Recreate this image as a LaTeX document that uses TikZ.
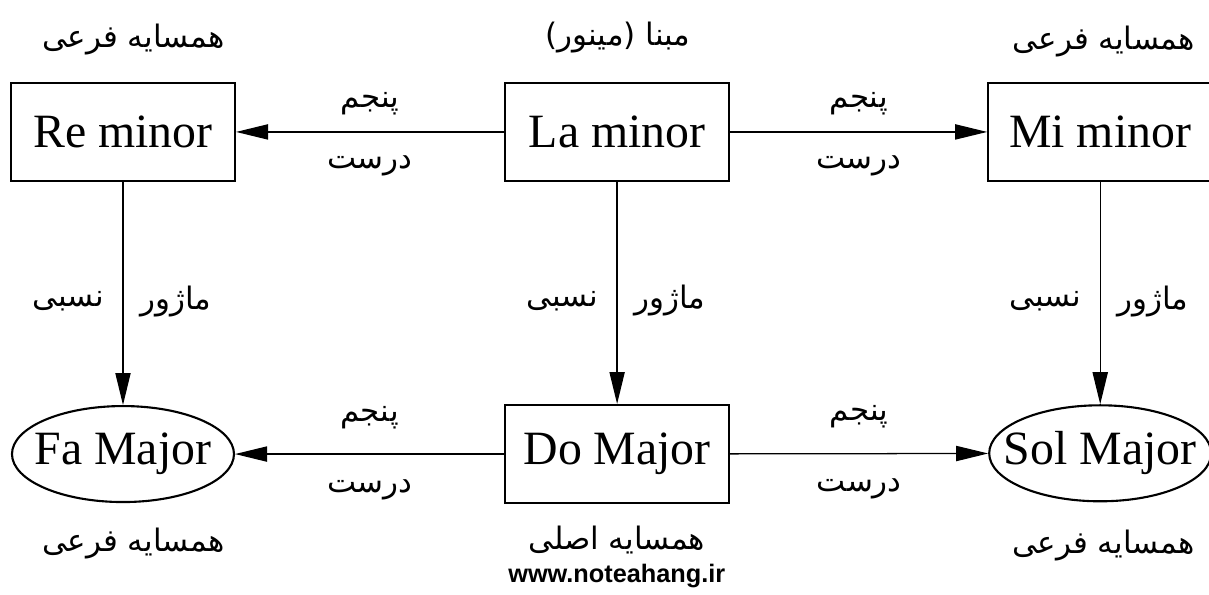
\documentclass[tikz,border=0pt]{standalone}
\usepackage{fontspec}
\setmainfont{Liberation Serif}
\newfontfamily\farsifont[Script=Arabic]{DejaVu Sans}
\newfontfamily\webfont{Liberation Sans}
\TeXXeTstate=1
\usetikzlibrary{matrix,shapes.geometric,arrows.meta}
\newcommand{\fatxt}[1]{{\farsifont\fontsize{22}{26}\selectfont\beginR #1\endR}}
\newcommand{\fifth}{\fatxt{پنجم}}
\newcommand{\perfect}{\fatxt{درست}}
\newcommand{\relMaj}{\fatxt{ماژور}}
\newcommand{\relRel}{\fatxt{نسبی}}
\newcommand{\subNb}{\fatxt{همسایه فرعی}}

\begin{document}
\begin{tikzpicture}
  \useasboundingbox (0,0) rectangle (30.225,-14.875);
  \matrix (m) [matrix of nodes,row sep=5.55cm,column sep=6.7cm,
    nodes={draw,line width=1.5pt,minimum width=5.6cm,minimum height=2.45cm,font=\fontsize{34}{40}\selectfont}] at (15.29,-7.325)
  {
    Re minor & La minor &[-0.275cm] Mi minor \\
    |[ellipse,minimum width=5.55cm,minimum height=2.4cm]| \makebox[0pt]{Fa Major} & Do Major &[-0.275cm]
    |[ellipse,minimum width=5.55cm,minimum height=2.4cm]| \makebox[0pt]{Sol Major} \\};
  \path[-{Triangle[length=8mm,width=3.8mm]},line width=0.9pt]
    (m-1-2) edge node [above=0.3cm] {\fifth} node [below=0.45cm] {\perfect} (m-1-1)
            edge node [above=0.3cm] {\fifth} node [below=0.45cm] {\perfect} (m-1-3)
            edge node [left=0.35cm,yshift=-0.2cm] {\relRel} node [right=0.3cm,yshift=-0.2cm] {\relMaj} (m-2-2)
    (m-1-1) edge node [left=0.35cm,yshift=-0.2cm] {\relRel} node [right=0.3cm,yshift=-0.2cm] {\relMaj} (m-2-1)
    (m-1-3) edge node [left=0.35cm,yshift=-0.2cm] {\relRel} node [right=0.3cm,yshift=-0.2cm] {\relMaj} (m-2-3)
    (m-2-2) edge node [above=0.5cm] {\fifth} node [below=0.5cm] {\perfect} (m-2-1)
            edge node [above=0.5cm] {\fifth} node [below=0.5cm] {\perfect} (m-2-3);
  % captions
  \node (capRe) at (3.33,-1.0) {\subNb};
  \node (capLa) at (15.45,-0.95) {\fatxt{مبنا (مینور)}};
  \node (capMi) at (27.6,-1.05) {\subNb};
  \node (capFa) at (3.33,-13.6) {\subNb};
  \node (capDo) at (15.42,-13.5) {\fatxt{همسایه اصلی}};
  \node (capSol) at (27.58,-13.65) {\subNb};
  \node [anchor=base] (web) at (15.42,-14.55) {\webfont\bfseries\fontsize{18}{21}\selectfont www.noteahang.ir};
\end{tikzpicture}
\end{document}
